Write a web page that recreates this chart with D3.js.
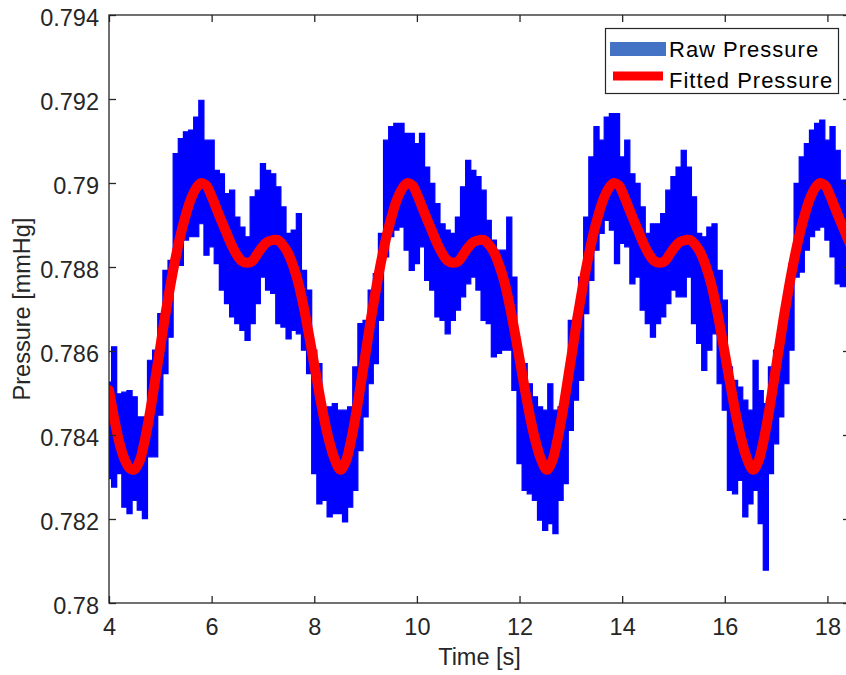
<!DOCTYPE html>
<html>
<head>
<meta charset="utf-8">
<script src="https://cdn.jsdelivr.net/npm/d3@7"></script>
<style>
  html, body { margin: 0; padding: 0; background: #ffffff; overflow: hidden; }
  svg { display: block; font-family: "Liberation Sans", Arial, Helvetica, sans-serif; }
</style>
</head>
<body>
<svg id="chart" width="846" height="675"></svg>
<script>
// ---- axis ticks ----
const xTicks = [4, 6, 8, 10, 12, 14, 16, 18];
const yTicks = [0.78, 0.782, 0.784, 0.786, 0.788, 0.79, 0.792, 0.794];
const yTickLabels = ["0.78", "0.782", "0.784", "0.786", "0.788", "0.79", "0.792", "0.794"];

const seriesNames = ["Raw Pressure", "Fitted Pressure"];
const axisTitles = { x: "Time [s]", y: "Pressure [mmHg]" };

// ---- raw pressure: upper / lower envelope of the sampled signal, every 0.1 s ----
const rawTime = [
  4.0, 4.1, 4.2, 4.3, 4.4, 4.5, 4.6, 4.7, 4.8, 4.9,
  5.0, 5.1, 5.2, 5.3, 5.4, 5.5, 5.6, 5.7, 5.8, 5.9,
  6.0, 6.1, 6.2, 6.3, 6.4, 6.5, 6.6, 6.7, 6.8, 6.9,
  7.0, 7.1, 7.2, 7.3, 7.4, 7.5, 7.6, 7.7, 7.8, 7.9,
  8.0, 8.1, 8.2, 8.3, 8.4, 8.5, 8.6, 8.7, 8.8, 8.9,
  9.0, 9.1, 9.2, 9.3, 9.4, 9.5, 9.6, 9.7, 9.8, 9.9,
  10.0, 10.1, 10.2, 10.3, 10.4, 10.5, 10.6, 10.7, 10.8, 10.9,
  11.0, 11.1, 11.2, 11.3, 11.4, 11.5, 11.6, 11.7, 11.8, 11.9,
  12.0, 12.1, 12.2, 12.3, 12.4, 12.5, 12.6, 12.7, 12.8, 12.9,
  13.0, 13.1, 13.2, 13.3, 13.4, 13.5, 13.6, 13.7, 13.8, 13.9,
  14.0, 14.1, 14.2, 14.3, 14.4, 14.5, 14.6, 14.7, 14.8, 14.9,
  15.0, 15.1, 15.2, 15.3, 15.4, 15.5, 15.6, 15.7, 15.8, 15.9,
  16.0, 16.1, 16.2, 16.3, 16.4, 16.5, 16.6, 16.7, 16.8, 16.9,
  17.0, 17.1, 17.2, 17.3, 17.4, 17.5, 17.6, 17.7, 17.8, 17.9,
  18.0, 18.1, 18.2, 18.3, 18.4
];
const rawHigh = [
  0.78526, 0.78610, 0.78498, 0.78502, 0.78506, 0.78491, 0.78443, 0.78443, 0.78578, 0.78602,
  0.78689, 0.78792, 0.78816, 0.79070, 0.79106, 0.79122, 0.79126, 0.79157, 0.79197, 0.79102,
  0.79102, 0.79030, 0.79022, 0.78975, 0.78983, 0.78919, 0.78895, 0.78872, 0.78967, 0.78983,
  0.79046, 0.79030, 0.79022, 0.78991, 0.78943, 0.78880, 0.78888, 0.78927, 0.78792, 0.78745,
  0.78602, 0.78570, 0.78459, 0.78467, 0.78475, 0.78459, 0.78459, 0.78467, 0.78562, 0.78665,
  0.78673, 0.78745, 0.78784, 0.78880, 0.79102, 0.79134, 0.79142, 0.79142, 0.79118, 0.79118,
  0.79094, 0.79118, 0.79038, 0.78999, 0.78951, 0.78903, 0.78888, 0.78880, 0.78919, 0.78991,
  0.79054, 0.79030, 0.79015, 0.78983, 0.78911, 0.78864, 0.78840, 0.78840, 0.78919, 0.78776,
  0.78602, 0.78570, 0.78522, 0.78491, 0.78467, 0.78459, 0.78522, 0.78459, 0.78467, 0.78506,
  0.78673, 0.78681, 0.78776, 0.78919, 0.79062, 0.79134, 0.79102, 0.79157, 0.79165, 0.79165,
  0.79062, 0.79102, 0.79022, 0.78999, 0.78943, 0.78880, 0.78903, 0.78903, 0.78927, 0.78983,
  0.79015, 0.79038, 0.79078, 0.79038, 0.78967, 0.78880, 0.78872, 0.78895, 0.78903, 0.78792,
  0.78721, 0.78562, 0.78530, 0.78514, 0.78483, 0.78459, 0.78578, 0.78506, 0.78475, 0.78562,
  0.78602, 0.78665, 0.78713, 0.78808, 0.78999, 0.79062, 0.79094, 0.79126, 0.79142, 0.79150,
  0.79102, 0.79134, 0.79078, 0.79007, 0.78999
];
const rawLow = [
  0.78296, 0.78276, 0.78308, 0.78228, 0.78213, 0.78244, 0.78221, 0.78201, 0.78348, 0.78348,
  0.78447, 0.78546, 0.78633, 0.78808, 0.78804, 0.78864, 0.78872, 0.78872, 0.78903, 0.78828,
  0.78848, 0.78808, 0.78745, 0.78713, 0.78681, 0.78665, 0.78649, 0.78625, 0.78665, 0.78713,
  0.78776, 0.78745, 0.78737, 0.78665, 0.78657, 0.78629, 0.78649, 0.78641, 0.78602, 0.78546,
  0.78308, 0.78236, 0.78244, 0.78205, 0.78213, 0.78213, 0.78193, 0.78228, 0.78268, 0.78363,
  0.78443, 0.78522, 0.78570, 0.78673, 0.78824, 0.78872, 0.78888, 0.78895, 0.78840, 0.78792,
  0.78808, 0.78848, 0.78768, 0.78745, 0.78681, 0.78673, 0.78641, 0.78673, 0.78697, 0.78729,
  0.78760, 0.78776, 0.78745, 0.78673, 0.78665, 0.78586, 0.78594, 0.78602, 0.78602, 0.78506,
  0.78332, 0.78268, 0.78260, 0.78244, 0.78197, 0.78173, 0.78189, 0.78165, 0.78244, 0.78284,
  0.78411, 0.78483, 0.78530, 0.78689, 0.78768, 0.78840, 0.78880, 0.78911, 0.78888, 0.78808,
  0.78856, 0.78848, 0.78760, 0.78776, 0.78697, 0.78665, 0.78633, 0.78665, 0.78681, 0.78713,
  0.78745, 0.78729, 0.78729, 0.78776, 0.78665, 0.78618, 0.78554, 0.78602, 0.78641, 0.78522,
  0.78459, 0.78268, 0.78260, 0.78292, 0.78205, 0.78236, 0.78268, 0.78189, 0.78078, 0.78308,
  0.78379, 0.78443, 0.78522, 0.78602, 0.78776, 0.78788, 0.78840, 0.78872, 0.78888, 0.78895,
  0.78864, 0.78824, 0.78760, 0.78753, 0.78753
];

// ---- fitted pressure curve ----
const fitTime = [
  4.00, 4.10, 4.20, 4.30, 4.40,
  4.49, 4.59, 4.69, 4.79, 4.89, 4.99, 5.09, 5.19, 5.29, 5.39,
  5.49, 5.59, 5.69, 5.79, 5.89, 5.99, 6.09, 6.19, 6.29, 6.39,
  6.49, 6.59, 6.69, 6.79, 6.89, 6.99, 7.09, 7.19, 7.29, 7.39,
  7.49, 7.59, 7.69, 7.79, 7.89, 7.99, 8.09, 8.19, 8.29, 8.39,
  8.51, 8.61, 8.71, 8.81, 8.91, 9.01, 9.11, 9.21, 9.31, 9.41,
  9.51, 9.61, 9.71, 9.81, 9.91, 10.01, 10.11, 10.21, 10.31, 10.41,
  10.51, 10.61, 10.71, 10.81, 10.91, 11.01, 11.11, 11.21, 11.31, 11.41,
  11.51, 11.61, 11.71, 11.81, 11.91, 12.01, 12.11, 12.21, 12.31, 12.41,
  12.53, 12.63, 12.73, 12.83, 12.93, 13.03, 13.13, 13.23, 13.33, 13.43,
  13.53, 13.63, 13.73, 13.83, 13.93, 14.03, 14.13, 14.23, 14.33, 14.43,
  14.53, 14.63, 14.73, 14.83, 14.93, 15.03, 15.13, 15.23, 15.33, 15.43,
  15.53, 15.63, 15.73, 15.83, 15.93, 16.03, 16.13, 16.23, 16.33, 16.43,
  16.55, 16.65, 16.75, 16.85, 16.95, 17.05, 17.15, 17.25, 17.35, 17.45,
  17.55, 17.65, 17.75, 17.85, 17.95, 18.05, 18.15, 18.25, 18.35, 18.45
];
const fitPressure = [
  0.78507, 0.78440, 0.78383, 0.78343, 0.78321,
  0.78317, 0.78336, 0.78383, 0.78448, 0.78524, 0.78602, 0.78681, 0.78752, 0.78817, 0.78874,
  0.78921, 0.78960, 0.78986, 0.79000, 0.78995, 0.78971, 0.78940, 0.78910, 0.78881, 0.78852,
  0.78829, 0.78814, 0.78810, 0.78814, 0.78831, 0.78848, 0.78860, 0.78864, 0.78864, 0.78852,
  0.78833, 0.78802, 0.78762, 0.78707, 0.78643, 0.78574, 0.78505, 0.78440, 0.78386, 0.78345,
  0.78317, 0.78336, 0.78383, 0.78448, 0.78524, 0.78602, 0.78681, 0.78752, 0.78817, 0.78874,
  0.78921, 0.78960, 0.78986, 0.79000, 0.78995, 0.78971, 0.78940, 0.78910, 0.78881, 0.78852,
  0.78829, 0.78814, 0.78810, 0.78814, 0.78831, 0.78848, 0.78860, 0.78864, 0.78864, 0.78852,
  0.78833, 0.78802, 0.78762, 0.78707, 0.78643, 0.78574, 0.78505, 0.78440, 0.78386, 0.78345,
  0.78317, 0.78336, 0.78383, 0.78448, 0.78524, 0.78602, 0.78681, 0.78752, 0.78817, 0.78874,
  0.78921, 0.78960, 0.78986, 0.79000, 0.78995, 0.78971, 0.78940, 0.78910, 0.78881, 0.78852,
  0.78829, 0.78814, 0.78810, 0.78814, 0.78831, 0.78848, 0.78860, 0.78864, 0.78864, 0.78852,
  0.78833, 0.78802, 0.78762, 0.78707, 0.78643, 0.78574, 0.78505, 0.78440, 0.78386, 0.78345,
  0.78317, 0.78336, 0.78383, 0.78448, 0.78524, 0.78602, 0.78681, 0.78752, 0.78817, 0.78874,
  0.78921, 0.78960, 0.78986, 0.79000, 0.78995, 0.78971, 0.78940, 0.78910, 0.78881, 0.78852
];

// ---- layout ----
const W = 846, H = 675;
const plot = { left: 109, right: 850, top: 15, bottom: 603 };
const axisColor = "#262626";
const rawColor = "#0000ff";
const rawLegendColor = "#4472c4";
const fitColor = "#ff0000";

const svg = d3.select("#chart");
svg.append("rect").attr("width", W).attr("height", H).attr("fill", "#ffffff");

const x = d3.scaleLinear().domain([4, 18.44]).range([plot.left, plot.right]);
const y = d3.scaleLinear().domain([0.78, 0.794]).range([plot.bottom, plot.top]);

svg.append("defs").append("clipPath").attr("id", "plot-clip")
  .append("rect")
  .attr("x", plot.left).attr("y", plot.top)
  .attr("width", plot.right - plot.left).attr("height", plot.bottom - plot.top);

const dataLayer = svg.append("g").attr("clip-path", "url(#plot-clip)");

// raw signal band (min/max envelope per sample bin, drawn as stepped spikes)
const rawRows = rawTime.map((t, i) => ({ t, hi: rawHigh[i], lo: rawLow[i] }));
const rawArea = d3.area()
  .x(d => x(d.t))
  .y0(d => y(d.lo))
  .y1(d => y(d.hi))
  .curve(d3.curveStep);
dataLayer.append("path")
  .datum(rawRows)
  .attr("d", rawArea)
  .attr("fill", rawColor)
  .attr("stroke", rawColor)
  .attr("stroke-width", 1.2)
  .attr("stroke-linejoin", "miter");

// fitted curve
const fitRows = fitTime.map((t, i) => ({ t, v: fitPressure[i] }));
const fitLine = d3.line()
  .x(d => x(d.t))
  .y(d => y(d.v))
  .curve(d3.curveCatmullRom);
dataLayer.append("path")
  .datum(fitRows)
  .attr("d", fitLine)
  .attr("fill", "none")
  .attr("stroke", fitColor)
  .attr("stroke-width", 10)
  .attr("stroke-linejoin", "round")
  .attr("stroke-linecap", "round");

// ---- axes (ticks inward on all four sides) ----
const tickLen = 7;
const fontTick = "23.5px";

function styleAxis(g) {
  g.select(".domain").remove();
  g.selectAll(".tick line").attr("stroke", axisColor).attr("stroke-width", 1.3);
  g.selectAll(".tick text").attr("fill", axisColor).style("font-size", fontTick)
    .style("font-family", "'Liberation Sans', Arial, Helvetica, sans-serif");
}

svg.append("g")
  .attr("transform", `translate(0,${plot.bottom})`)
  .call(d3.axisBottom(x).tickValues(xTicks).tickSizeInner(-tickLen).tickSizeOuter(0)
    .tickPadding(15).tickFormat(d3.format("d")))
  .call(styleAxis);

svg.append("g")
  .attr("transform", `translate(0,${plot.top})`)
  .call(d3.axisTop(x).tickValues(xTicks).tickSizeInner(-tickLen).tickSizeOuter(0).tickFormat(() => ""))
  .call(styleAxis);

const yAxisG = svg.append("g")
  .attr("transform", `translate(${plot.left},0)`)
  .call(d3.axisLeft(y).tickValues(yTicks).tickSizeInner(-tickLen).tickSizeOuter(0)
    .tickPadding(10).tickFormat((d, i) => yTickLabels[i]))
  .call(styleAxis);
yAxisG.selectAll(".tick text").attr("dy", "0.46em");

svg.append("g")
  .attr("transform", `translate(${plot.right},0)`)
  .call(d3.axisRight(y).tickValues(yTicks).tickSizeInner(-tickLen).tickSizeOuter(0).tickFormat(() => ""))
  .call(styleAxis);

// axes box
svg.append("rect")
  .attr("x", plot.left).attr("y", plot.top)
  .attr("width", plot.right - plot.left).attr("height", plot.bottom - plot.top)
  .attr("fill", "none").attr("stroke", axisColor).attr("stroke-width", 1.3);

// axis titles
svg.append("text")
  .attr("x", (plot.left + plot.right) / 2).attr("y", 665)
  .attr("text-anchor", "middle")
  .attr("fill", axisColor)
  .style("font-size", "23.5px")
  .text(axisTitles.x);

svg.append("text")
  .attr("transform", `translate(30,${(plot.top + plot.bottom) / 2}) rotate(-90)`)
  .attr("text-anchor", "middle")
  .attr("fill", axisColor)
  .style("font-size", "23.5px")
  .text(axisTitles.y);

// ---- legend ----
const legend = svg.append("g");
legend.append("rect")
  .attr("x", 605.5).attr("y", 28.5).attr("width", 233).attr("height", 65)
  .attr("fill", "#ffffff").attr("stroke", axisColor).attr("stroke-width", 1.2);
legend.append("rect")
  .attr("x", 610).attr("y", 42).attr("width", 56).attr("height", 14)
  .attr("fill", rawLegendColor);
legend.append("line")
  .attr("x1", 613).attr("x2", 663).attr("y1", 76).attr("y2", 76)
  .attr("stroke", fitColor).attr("stroke-width", 9);
legend.selectAll("text.entry")
  .data(seriesNames)
  .join("text")
  .attr("class", "entry")
  .attr("x", 669)
  .attr("y", (d, i) => 57 + i * 31)
  .attr("fill", "#000000")
  .style("font-size", "22px")
  .style("letter-spacing", "1px")
  .text(d => d);
</script>
</body>
</html>
